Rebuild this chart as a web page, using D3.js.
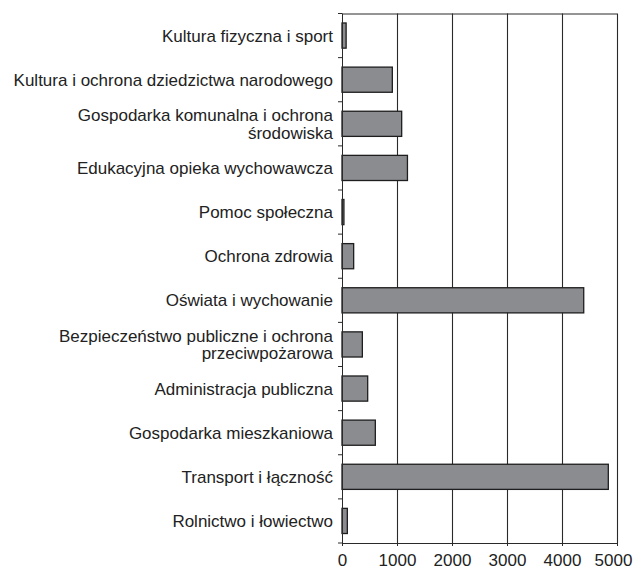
<script src="https://d3js.org/d3.v7.min.js"></script>
<style>
    body { margin: 0; background: #fff; }
    text { font-family: "Liberation Sans", Arial, sans-serif; fill: #222; }
</style>

<div id="chart"></div>

<script>

    // categories top to bottom, "\n" marks a line break in the label
    let categories = [
        "Kultura fizyczna i sport",
        "Kultura i ochrona dziedzictwa narodowego",
        "Gospodarka komunalna i ochrona\nśrodowiska",
        "Edukacyjna opieka wychowawcza",
        "Pomoc społeczna",
        "Ochrona zdrowia",
        "Oświata i wychowanie",
        "Bezpieczeństwo publiczne i ochrona\nprzeciwpożarowa",
        "Administracja publiczna",
        "Gospodarka mieszkaniowa",
        "Transport i łączność",
        "Rolnictwo i łowiectwo"
    ];
    let values = [75, 915, 1085, 1190, 35, 212, 4395, 370, 467, 606, 4842, 97];
    let xTicks = [0, 1000, 2000, 3000, 4000, 5000];

    let margin = {top: 13.5, right: 17, bottom: 27, left: 342},
        width = 634 - margin.left - margin.right,
        height = 570 - margin.top - margin.bottom;

    var svg = d3.select("#chart")
        .append("svg")
            .attr("width", 634)
            .attr("height", 570)
        .append("g")
            .attr("transform", "translate(" + margin.left + "," + margin.top + ")");

    var xScale = d3.scaleLinear().domain([0, 5000]).range([0, width]),
        yScale = d3.scaleBand().domain(categories).range([0, height])
            .paddingInner(0.43).paddingOuter(0.215);

    // vertical grid lines
    svg.append("g")
        .selectAll("line")
        .data(xTicks.slice(1))
        .enter()
        .append("line")
            .attr("x1", d => Math.round(xScale(d)) + 0.5)
            .attr("x2", d => Math.round(xScale(d)) + 0.5)
            .attr("y1", 0)
            .attr("y2", height)
            .attr("stroke", "#2a2a2a")
            .attr("stroke-width", 1.1);

    // top border
    svg.append("line")
        .attr("x1", 0).attr("x2", width)
        .attr("y1", 0.5).attr("y2", 0.5)
        .attr("stroke", "#2a2a2a");

    // bars
    svg.selectAll(".bar")
        .data(categories)
        .enter()
        .append("rect")
            .attr("class", "bar")
            .attr("x", 0)
            .attr("y", d => yScale(d))
            .attr("width", (d, i) => xScale(values[i]))
            .attr("height", yScale.bandwidth())
            .style("fill", "#8b8c90")
            .style("stroke", "#1e1e1e")
            .style("stroke-width", 1.3);

    // x axis
    let xAxis = svg.append("g")
        .attr("transform", "translate(0," + height + ")")
        .call(d3.axisBottom(xScale).tickValues(xTicks).tickSize(3).tickPadding(8)
            .tickFormat(d3.format("d")));
    xAxis.selectAll("text").style("font-size", "17px");
    xAxis.selectAll("line, path").attr("stroke", "#2a2a2a");
    // last label is pulled in so it stays inside the picture
    xAxis.selectAll(".tick:last-of-type text").attr("dx", -4);

    // y axis line and ticks at band boundaries
    svg.append("line")
        .attr("x1", 0.5).attr("x2", 0.5)
        .attr("y1", 0).attr("y2", height)
        .attr("stroke", "#2a2a2a");

    let step = yScale.step();
    svg.append("g")
        .selectAll("line")
        .data(d3.range(categories.length + 1))
        .enter()
        .append("line")
            .attr("x1", -4)
            .attr("x2", 0)
            .attr("y1", i => i * step)
            .attr("y2", i => i * step)
            .attr("stroke", "#2a2a2a");

    // category labels
    let labels = svg.append("g")
        .selectAll("text")
        .data(categories)
        .enter()
        .append("text")
            .attr("text-anchor", "end")
            .style("font-size", "17px")
            .attr("transform", d => "translate(-9," + (yScale(d) + yScale.bandwidth() / 2) + ")");

    labels.each(function(d) {
        let lines = d.split("\n");
        let lh = 17.5;
        let y0 = -(lines.length - 1) * lh / 2;
        lines.forEach((line, k) => {
            d3.select(this).append("tspan")
                .attr("x", 0)
                .attr("y", y0 + k * lh)
                .attr("dy", "0.35em")
                .text(line);
        });
    });
</script>
